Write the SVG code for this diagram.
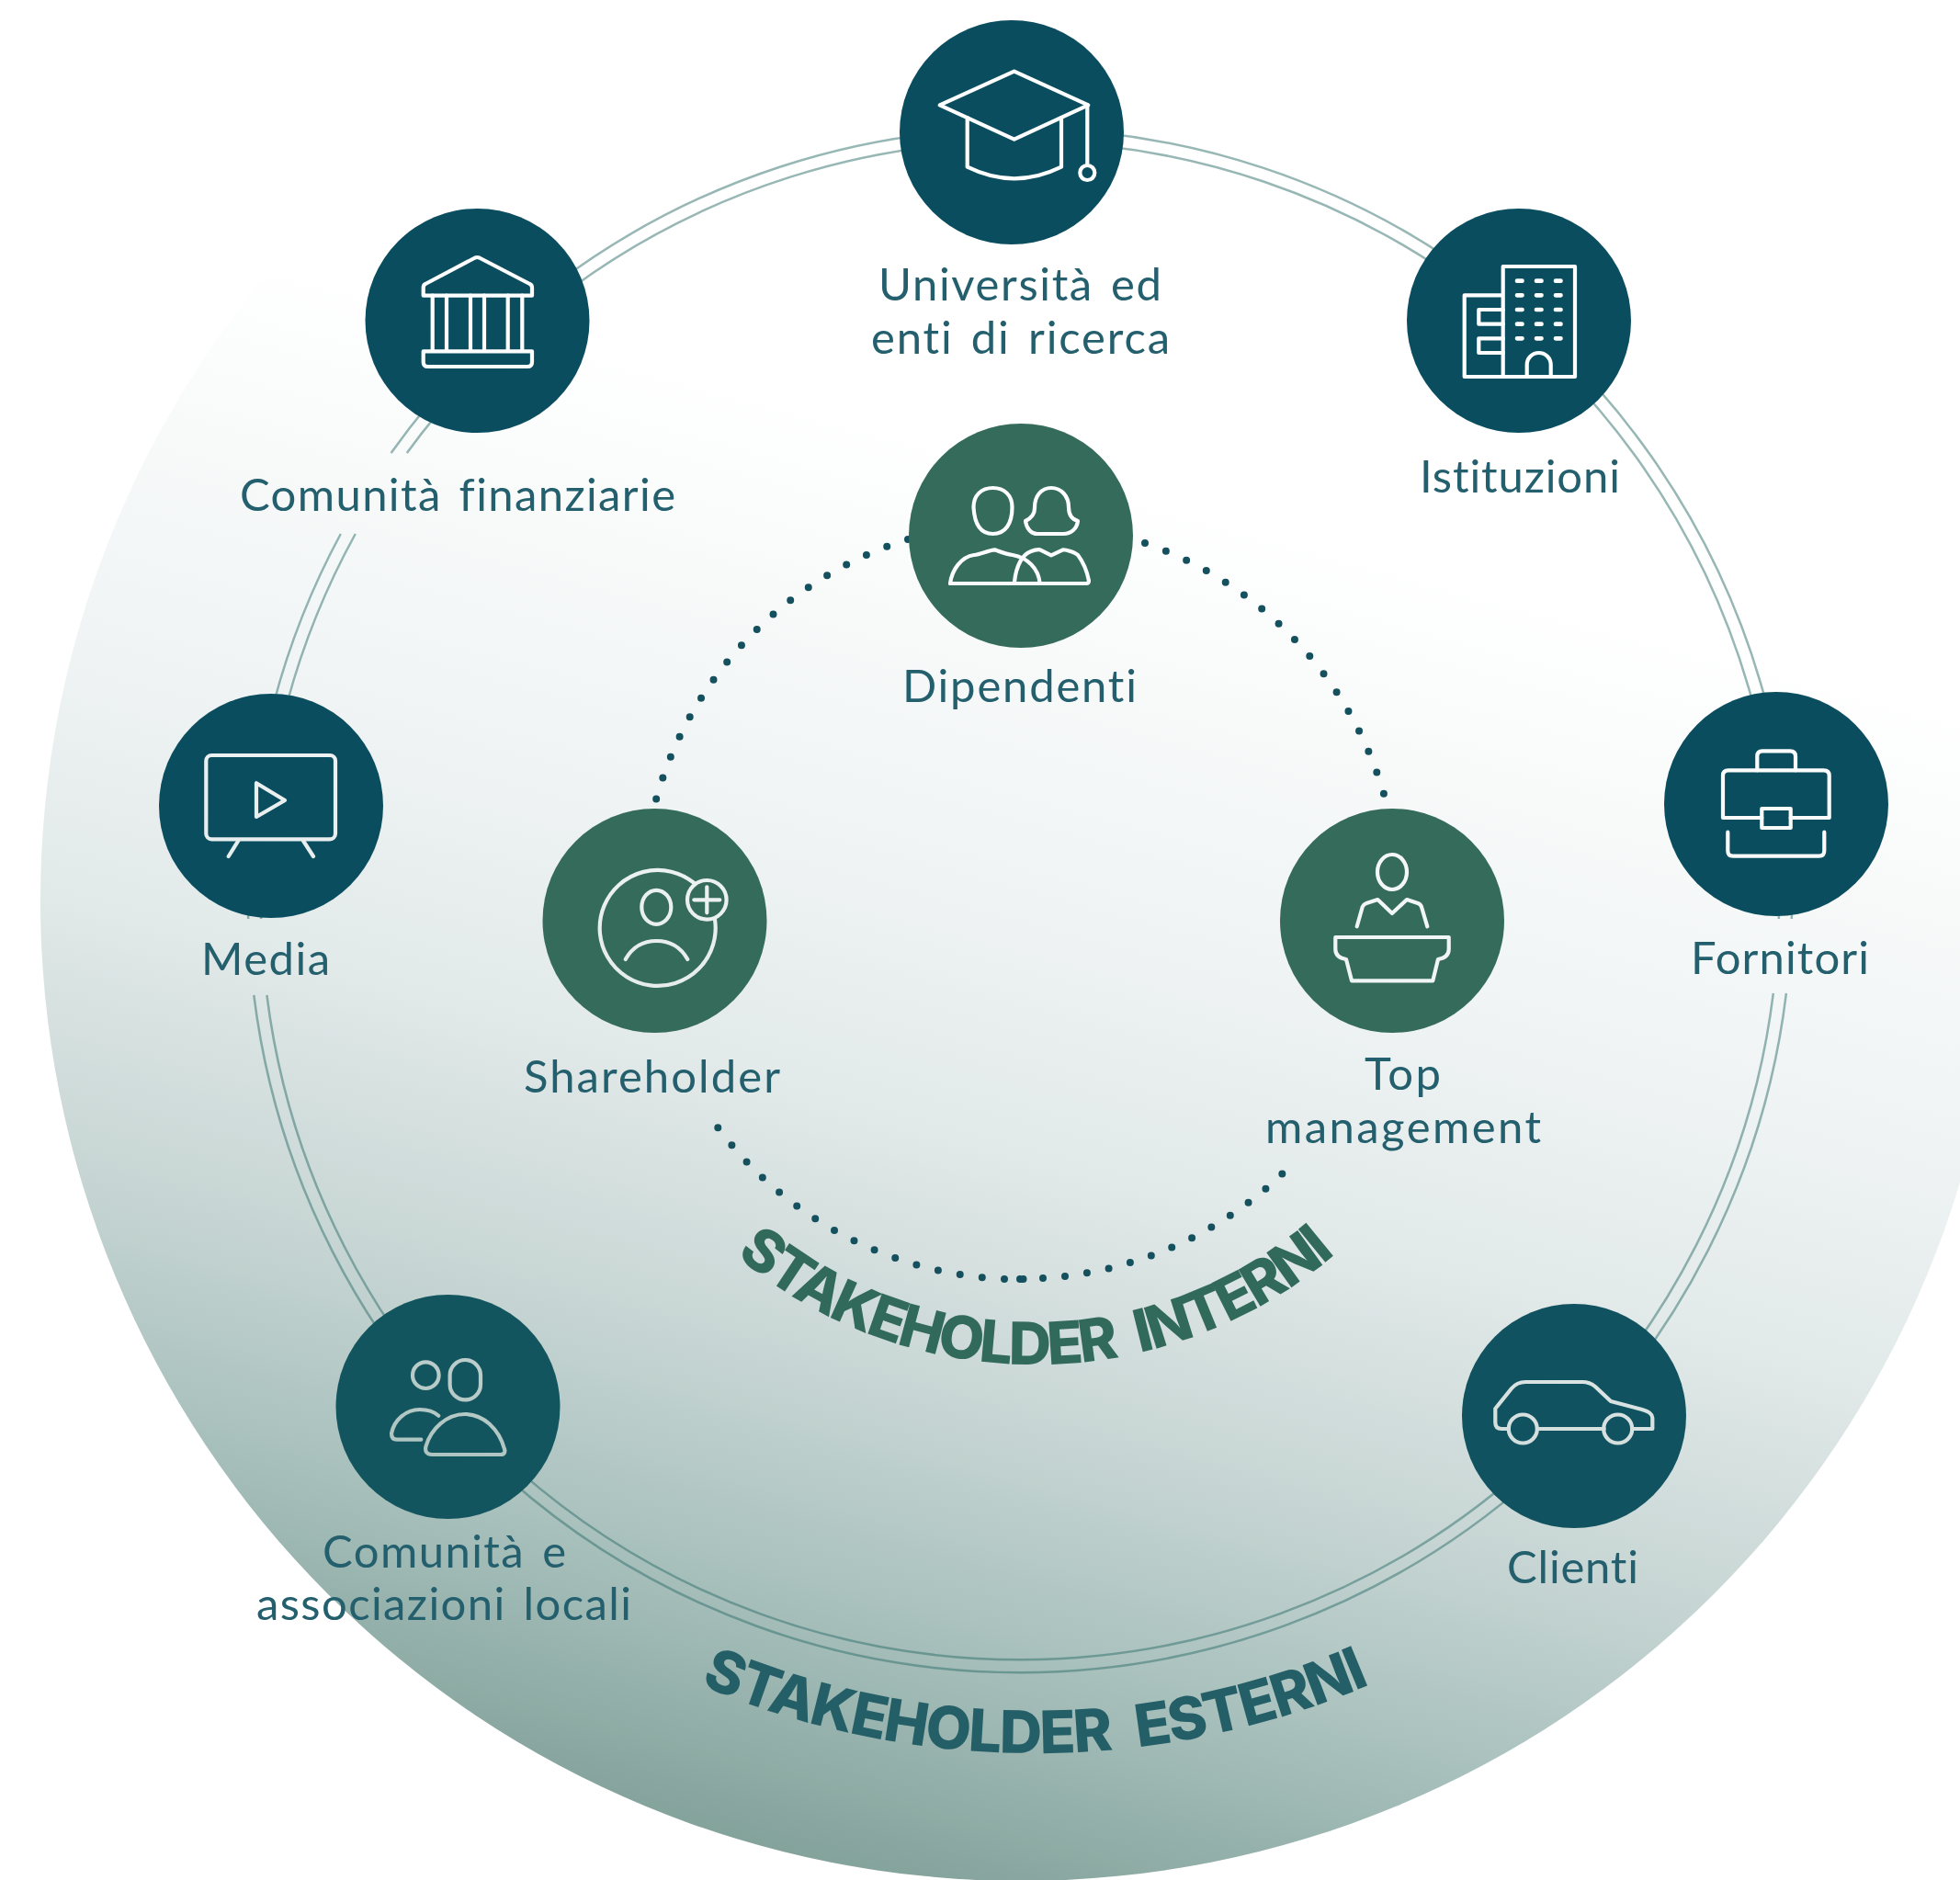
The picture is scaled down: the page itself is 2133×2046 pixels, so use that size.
<svg xmlns="http://www.w3.org/2000/svg" width="2133" height="2046" viewBox="0 0 2133 2046">
<style>
.lbl{font-family:"Lato","Liberation Sans",sans-serif;font-size:49px;font-weight:400;fill:#245f6e;font-variant-ligatures:none;word-spacing:5px}
.cv{font-family:"Inter","Liberation Sans",sans-serif;font-weight:800;font-size:64px;font-variant-ligatures:none}
.ic{fill:none;stroke:url(#bg);stroke-width:4.2;stroke-linecap:round;stroke-linejoin:round}
.ring{fill:none;stroke:#2f6f6c;stroke-opacity:.5;stroke-width:2.5}
.dots{fill:none;stroke:#15505f;stroke-width:8;stroke-linecap:round}
.ext{fill:#0a4d5f}.int{fill:#346b5a}
</style>
<defs>
<linearGradient id="bg" gradientUnits="userSpaceOnUse" x1="1330" y1="420" x2="890" y2="2060">
<stop offset="0" stop-color="#ffffff"/>
<stop offset=".08" stop-color="#ffffff"/>
<stop offset=".34" stop-color="#f0f4f4"/>
<stop offset=".5" stop-color="#e3eaea"/>
<stop offset=".68" stop-color="#c6d5d3"/>
<stop offset=".82" stop-color="#a8c0bc"/>
<stop offset="1" stop-color="#7f9f97"/>
</linearGradient>
<path id="pInt" d="M739.1 1304.6A505 505 0 0 0 1512.9 1304.6"/>
<path id="pEst" d="M662 1783.7A928 928 0 0 0 1590 1783.7"/>
</defs>
<rect width="2133" height="2046" fill="#ffffff"/>
<circle id="background" cx="1111" cy="980" r="1067" fill="url(#bg)"/>
<g id="connectors">
<path class="ring" d="M425.6 493A840 840 0 0 1 1949.8 1000"/>
<path class="ring" d="M1943.9 1081A840 840 0 0 1 276.3 1083"/>
<path class="ring" d="M270.2 1000A840 840 0 0 1 370.8 581"/>
<path class="ring" d="M442.8 493A826 826 0 0 1 1935.8 1000"/>
<path class="ring" d="M1929.8 1081A826 826 0 0 1 290.4 1083"/>
<path class="ring" d="M284.2 1000A826 826 0 0 1 386.8 581"/>
<path class="dots" stroke-dasharray="0 24.12" d="M988 587A412 412 0 0 0 714 870"/>
<path class="dots" stroke-dasharray="0 24.45" d="M1246 591A412 412 0 0 1 1506 864"/>
<path class="dots" stroke-dasharray="0 24.28" d="M1093 1392A412 412 0 0 1 781 1227"/>
<path class="dots" stroke-dasharray="0 24.15" d="M1135 1391A412 412 0 0 0 1397 1276"/>
<path class="dots" d="M1110 1392L1110.01 1392M1113.5 1392L1113.51 1392"/>
</g>
<g id="universita">
<circle class="ext" cx="1101" cy="144" r="122"/>
<path class="ic" d="M1022.7 114.3L1103.7 77.7L1184.3 114.3L1103.7 151.7Z"/>
<path class="ic" d="M1052.7 128V181.7Q1104 207 1155 181.7V128"/>
<path class="ic" d="M1183.3 114.3V180"/>
<circle class="ic" cx="1183.3" cy="188" r="8"/>
<text class="lbl" x="956" y="327" textLength="308">Università ed</text>
<text class="lbl" x="948" y="385" textLength="325">enti di ricerca</text>
</g>
<g id="comunita-finanziarie">
<circle class="ext" cx="519.5" cy="349" r="122"/>
<path class="ic" d="M460.7 321.7V313Q460.7 310 463 309L517 280.5Q519.3 279.5 521.6 280.5L576.5 309Q579 310 579 313V321.7Z"/>
<path class="ic" d="M470.7 321.7V382M486 321.7V382M512 321.7V382M527 321.7V382M552.7 321.7V382M568.3 321.7V382"/>
<path class="ic" d="M460.7 382.3H579V394Q579 399 574 399H465.7Q460.7 399 460.7 394Z"/>
<text class="lbl" x="261" y="556" textLength="474">Comunità finanziarie</text>
</g>
<g id="istituzioni">
<circle class="ext" cx="1653" cy="349" r="122"/>
<path class="ic" d="M1635.7 410V290H1714V410ZM1635.7 321.3H1593.7V410H1635.7"/>
<path class="ic" d="M1635.7 337H1609.3V352.7H1635.7M1635.7 368.3H1609.3V384H1635.7"/>
<path class="ic" d="M1661.7 410V397A13 13 0 0 1 1687.7 397V410"/>
<path class="ic" style="stroke-width:4.7" d="M1651 305.7h5.5M1672 305.7h5.5M1693 305.7h5.5M1651 321.3h5.5M1672 321.3h5.5M1693 321.3h5.5M1651 337h5.5M1672 337h5.5M1693 337h5.5M1651 352.7h5.5M1672 352.7h5.5M1693 352.7h5.5M1651 368.3h5.5M1672 368.3h5.5M1693 368.3h5.5"/>
<text class="lbl" x="1545" y="536" textLength="218">Istituzioni</text>
</g>
<g id="dipendenti">
<circle class="int" cx="1111" cy="583" r="122"/>
<path class="ic" d="M1059.5 552C1059.5 539 1068 531 1080.5 531C1093 531 1101.5 539 1101.5 552C1101.5 570 1094 581 1080.5 581C1067 581 1060.5 570 1059.5 552Z"/>
<path class="ic" d="M1116 567C1122 564 1126 560 1126 553V552C1126 540 1133 531 1144 531C1155 531 1163 540 1163 552C1163 560 1166 565 1173 567C1172 575 1166 581 1157 581H1129C1122 581 1117 575 1116 567Z"/>
<path class="ic" d="M1034 635C1036 620 1046 606 1060 604C1068 603 1075 599 1082.7 598.3C1090 601 1095 603 1102 604C1118 607 1130 618 1131.7 635"/>
<path class="ic" d="M1104 633C1106 615 1113 603 1122 600C1127 598 1129 598 1132 598.3L1144 604.3L1156.7 598.3C1160 598 1170 601 1173 604C1179 612 1183 622 1185 632Q1185 635 1182 635H1034"/>
<text class="lbl" x="982" y="764" textLength="255">Dipendenti</text>
</g>
<g id="media">
<circle class="ext" cx="295" cy="877" r="122"/>
<rect class="ic" x="224.3" y="822" width="140.7" height="91.3" rx="6"/>
<path class="ic" d="M279 852.3V889L310 871Z"/>
<path class="ic" d="M259.3 915L248.7 932M330 915L341 932"/>
<text class="lbl" x="219" y="1061" textLength="140">Media</text>
</g>
<g id="shareholder">
<circle class="int" cx="712.5" cy="1002" r="122"/>
<path class="ic" d="M755 960.7A63 63 0 1 0 778 1000.7"/>
<circle class="ic" cx="769.3" cy="979.3" r="21.3"/>
<path class="ic" d="M755.3 979.3H783.3M769.3 965.3V993.3"/>
<ellipse class="ic" cx="714.3" cy="987.3" rx="16" ry="18.5"/>
<path class="ic" d="M680.7 1044Q692 1024 714.5 1024Q737 1024 748.3 1044"/>
<text class="lbl" x="570" y="1189" textLength="279">Shareholder</text>
</g>
<g id="top-management">
<circle class="int" cx="1515" cy="1002" r="122"/>
<ellipse class="ic" cx="1515" cy="949" rx="16" ry="19"/>
<path class="ic" d="M1476.7 1008.3L1482.7 987Q1484 984 1487 983L1499.3 979L1515 994L1531 979L1543 983Q1546 984 1547 987L1553.3 1008.3"/>
<path class="ic" d="M1453.3 1020H1576.7V1033Q1576.7 1042 1565 1044L1559.3 1067.3H1471L1465 1044Q1453.3 1042 1453.3 1033Z"/>
<text class="lbl" x="1485" y="1186" textLength="83">Top</text>
<text class="lbl" x="1377" y="1244" textLength="300">management</text>
</g>
<g id="fornitori">
<circle class="ext" cx="1933" cy="875" r="122"/>
<path class="ic" d="M1917.3 890H1875V844Q1875 838.3 1881 838.3H1984.7Q1990.7 838.3 1990.7 844V890H1948.7"/>
<path class="ic" d="M1912.3 838.3V823Q1912.3 817.3 1918 817.3H1948Q1954 817.3 1954 823V838.3"/>
<rect class="ic" x="1917.3" y="880" width="31.4" height="21"/>
<path class="ic" d="M1880.3 905.7V926Q1880.3 931.7 1886 931.7H1979.5Q1985.3 931.7 1985.3 926V905.7"/>
<text class="lbl" x="1840" y="1060" textLength="194">Fornitori</text>
</g>
<g id="comunita-associazioni">
<circle cx="487.5" cy="1531" r="122" fill="#13555f"/>
<circle class="ic" cx="463.3" cy="1496.7" r="14.3"/>
<rect class="ic" x="489.6" y="1480" width="33.4" height="43.4" rx="16.7"/>
<path class="ic" d="M477.3 1540.7C472 1536 465 1534 456.7 1534C442 1534 429 1545 426 1560Q426 1566.7 432 1566.7H458.3"/>
<path class="ic" d="M470 1583H545C549 1583 550 1580 549 1577C543 1555 526 1539 506 1539C486 1539 469 1555 463.5 1574C462 1580 465 1583 470 1583Z"/>
<text class="lbl" x="351" y="1706" textLength="265">Comunità e</text>
<text class="lbl" x="279" y="1763" textLength="408">associazioni locali</text>
</g>
<g id="clienti">
<circle cx="1713" cy="1541" r="122" fill="#10525f"/>
<path class="ic" d="M1641.7 1555H1634Q1627.3 1555 1627.3 1548V1533L1645 1511Q1651 1504 1660 1504H1722Q1730 1504 1736 1509L1753 1525L1787 1534Q1798.3 1537 1798.3 1543V1555H1776.7M1673.3 1555H1745.7"/>
<circle class="ic" cx="1657.3" cy="1555" r="15.5"/>
<circle class="ic" cx="1760.7" cy="1555" r="15.5"/>
<text class="lbl" x="1640" y="1723" textLength="143">Clienti</text>
</g>
<g id="labels-arc">
<text class="cv" fill="#31695b" style="letter-spacing:-3px;word-spacing:14px"><textPath href="#pInt" startOffset="50%" text-anchor="middle">STAKEHOLDER INTERNI</textPath></text>
<text class="cv" fill="#245f68" style="letter-spacing:-1.7px;word-spacing:16px"><textPath href="#pEst" startOffset="50%" text-anchor="middle">STAKEHOLDER ESTERNI</textPath></text>
</g>
</svg>
